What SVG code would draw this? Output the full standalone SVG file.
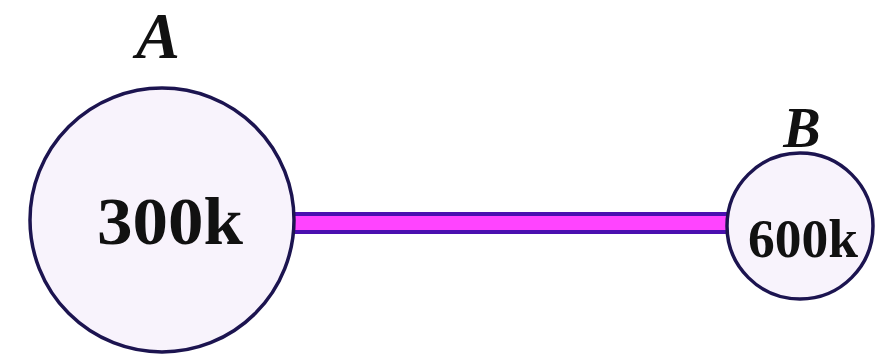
<svg xmlns="http://www.w3.org/2000/svg" width="875" height="355" viewBox="0 0 875 355">
<style>
.node{fill:#f8f3fc;stroke:#1c1450;stroke-width:3.5}
.lbl{font-family:"Liberation Serif","DejaVu Serif",serif;font-weight:bold;fill:#111;text-anchor:middle}
.name{font-family:"Liberation Serif","DejaVu Serif",serif;font-weight:bold;font-style:italic;fill:#111;text-anchor:middle}
</style>
<rect width="875" height="355" fill="#ffffff"/>
<g id="connectors">
<rect x="290" y="214" width="440" height="18" fill="#ff44ff" stroke="#4a10b0" stroke-width="4"/>
</g>
<g id="nodeA">
<circle class="node" cx="162" cy="220" r="132"/>
<text class="lbl" x="170" y="244" font-size="68" textLength="146" lengthAdjust="spacingAndGlyphs">300k</text>
<text class="name" x="158" y="58" font-size="66">A</text>
</g>
<g id="nodeB">
<circle class="node" cx="800" cy="226" r="73"/>
<text class="lbl" x="803" y="257" font-size="54" textLength="110" lengthAdjust="spacingAndGlyphs">600k</text>
<text class="name" x="802" y="147" font-size="56">B</text>
</g>
</svg>
